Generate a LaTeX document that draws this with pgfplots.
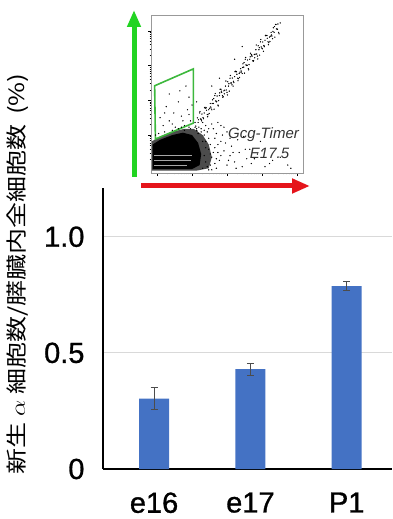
\documentclass[border=0pt]{standalone}
\usepackage{fontspec}
\setmainfont{Liberation Sans}
\newfontfamily\jp{Noto Sans CJK JP}
\newfontfamily\tickfont[FakeBold=1]{Liberation Sans}
\usepackage{pgfplots}
\pgfplotsset{compat=1.18}
\usetikzlibrary{arrows.meta}
\definecolor{barblue}{HTML}{4472C4}
\definecolor{gatecol}{HTML}{3DB83D}
\definecolor{arrgreen}{HTML}{22D422}
\definecolor{arrred}{HTML}{E5141B}
\begin{document}
\begin{tikzpicture}[x=1pt,y=1pt]
\useasboundingbox (0,0) rectangle (392,519);
% ---------- main bar chart ----------
\begin{axis}[at={(103pt,50pt)}, anchor=south west, scale only axis,
  width=289pt, height=281pt,
  xmin=-0.53, xmax=2.47, ymin=0, ymax=1.21,
  axis x line*=bottom, axis y line*=left,
  axis line style={black, line width=1.2pt, -},
  xtick={0,1,2},
  xticklabel={\tickfont\fontsize{29}{32}\selectfont\ifcase\ticknum\relax e16\or e17\or P1\fi},
  ytick={0,0.5,1},
  yticklabel={\tickfont\fontsize{29}{32}\selectfont\ifcase\ticknum\relax 0\or 0.5\or 1.0\fi},
  major tick length=0pt,
  ymajorgrids, grid style={draw=black!15, line width=0.8pt},
  yticklabel style={xshift=-15pt},
  xticklabel style={yshift=-20pt},
  clip=false]
\addplot[ybar, bar width=30pt, fill=barblue, draw=none,
  error bars/.cd, y dir=both, y explicit,
  error bar style={draw=black!70, line width=0.7pt},
  error mark options={rotate=90, mark size=3.5pt, draw=black!70, line width=0.7pt}]
  coordinates {(0,0.303) +- (0,0.048) (1,0.430) +- (0,0.026) (2,0.787) +- (0,0.019)};
\end{axis}
\node[rotate=90, font=\jp\fontsize{21}{23}\selectfont] at (18,245) {\scalebox{1.24}[1]{新生 $\alpha$ 細胞数/膵臓内全細胞数\hspace{0.35em}(\%)}};
% ---------- inset flow plot ----------
\begin{axis}[at={(151pt,346pt)}, anchor=south west, scale only axis,
  width=152pt, height=158pt,
  xmin=0, xmax=100, ymin=0, ymax=100,
  axis line style={black!40, line width=0.5pt},
  xtick={4,27,50,73,96}, ytick={24,46,68,90},
  minor xtick={10.9,15,17.8,20.1,21.9,23.4,24.8,25.9,33.9,38,40.8,43.1,44.9,46.4,47.8,48.9,56.9,61,63.8,66.1,67.9,69.4,70.8,71.9,79.9,84,86.8,89.1,90.9,92.4,93.8,94.9},
  minor ytick={8.6,12.5,15.2,17.4,19.1,20.6,21.9,23,30.6,34.5,37.2,39.4,41.1,42.6,43.9,45,52.6,56.5,59.2,61.4,63.1,64.6,65.9,67,74.6,78.5,81.2,83.4,85.1,86.6,87.9,89},
  xticklabels={}, yticklabels={},
  tick align=outside, tick pos=left,
  major tick length=3pt, minor tick length=1.5pt,
  tick style={black, line width=0.5pt},
  clip=true]
\addplot[fill=black!70, draw=none] coordinates {(0.5,1.5)(0.5,20)(6,23)(14,26)(22,28)(28,28)(34,24)(38,18)(40,10)(38,3)(30,1.5)} -- cycle;
\addplot[fill=black, draw=none] coordinates {(1,2.5)(1,18)(6,21)(14,24)(21,25.5)(27,24)(31,19)(33,12)(32,5)(27,2.5)} -- cycle;
\addplot[black!35, line width=0.4pt] coordinates {(2,5)(24,5)};
\addplot[black!35, line width=0.4pt] coordinates {(2,8)(26,8)};
\addplot[black!35, line width=0.4pt] coordinates {(2,11)(27,11)};
\addplot[only marks, mark=*, mark size=0.4pt, black] coordinates {
(29,32)(30,28)(31,32)(32,38)(33,34)(34,32)(35,38)(36,41)(37,37)(38,40)(39,44)(40,40)(41,44)(42,49)(43,45)(44,43)(45,49)(46,53)(47,49)(48,52)(49,55)(50,51)(51,55)(52,60)(53,57)(54,55)(55,61)(56,64)(57,60)(58,63)(59,66)(60,63)(61,67)(62,72)(63,68)(64,66)(65,72)(66,75)(67,71)(68,75)(69,78)(70,74)(71,78)(72,83)(73,79)(74,77)(75,84)(76,87)(77,83)(78,86)(79,89)(80,85)(81,89)(82,94)(83,91)(84,89)(85,95)
(29.5,29.7)(30.5,34.9)(31.5,29)(32.5,34.2)(33.5,37.3)(34.5,34.4)(35.5,41.6)(36.5,39.7)(37.5,36.9)(38.5,41)(39.5,41.1)(40.5,46.3)(41.5,40.4)(42.5,45.6)(43.5,48.7)(44.5,45.8)(45.5,53)(46.5,51.1)(47.5,48.3)(48.5,52.4)(49.5,52.5)(50.5,57.7)(51.5,51.8)(52.5,57)(53.5,60.1)(54.5,57.2)(55.5,64.4)(56.5,62.5)(57.5,59.7)(58.5,63.8)(59.5,63.9)(60.5,69.1)(61.5,63.2)(62.5,68.4)(63.5,71.5)(64.5,68.6)(65.5,75.8)(66.5,73.9)(67.5,71.1)(68.5,75.2)(69.5,75.3)(70.5,80.5)(71.5,74.6)(72.5,79.8)(73.5,82.9)(74.5,80)(75.5,87.2)(76.5,85.3)(77.5,82.5)(78.5,86.6)(79.5,86.7)(80.5,91.9)(81.5,86)(82.5,91.2)(83.5,94.3)
(30.25,26.6)(32.25,38.9)(34.25,35.1)(36.25,41.4)(38.25,37.7)(40.25,44)(42.25,50.3)(44.25,42.5)(46.25,51.8)(48.25,50.1)(50.25,49.4)(52.25,61.7)(54.25,58)(56.25,64.2)(58.25,60.5)(60.25,66.8)(62.25,73.1)(64.25,65.3)(66.25,74.6)(68.25,72.9)(70.25,72.2)(72.25,84.5)(74.25,80.7)(76.25,87)(78.25,83.3)(80.25,89.6)(82.25,94)(84.25,88.1)
(31.25,33.7)(33.25,33)(35.25,41.3)(37.25,35.6)(39.25,41.8)(41.25,47.1)(43.25,45.4)(45.25,50.7)(47.25,48)(49.25,58.2)(51.25,56.5)(53.25,55.8)(55.25,64.1)(57.25,58.4)(59.25,64.6)(61.25,69.9)(63.25,68.2)(65.25,73.5)(67.25,70.8)(69.25,81)(71.25,79.3)(73.25,78.6)(75.25,86.9)(77.25,81.2)(79.25,87.4)(81.25,92.7)(83.25,91)
(36,20)(38,15)(40,10)(42,22)(37,26)(45,8)(48,14)(50,5)(44,18)(52,11)(55,7)(58,13)(60,4)(63,9)(47,24)(41,28)(35,24)(39,5)(43,3)(53,17)(57,21)(66,6)(70,12)(75,4)(33,28)(30,27)(26,28)(22,27)(18,28)(14,27)(9,26)(5,25)(3,24)(46,30)(50,26)(34,3)(36,7)(38,2)(39,18)(41,13)
(34,20)(36,16)(38,22)(39,12)(42,16)(43,9)(44,13)(35,11)(37,4)(40,2)(42,6)(46,11)(49,19)(33,26)(29,29)(25,29)(20,29)(31,25)(35,27)(38,28)(43,25)(46,20)(51,8)(54,13)(56,3)(62,15)(68,9)(73,14)(78,6)(85,10)(92,3)(61,23)(52,22)(48,29)(44,32)(40,31)(36,30)
(8,30)(12,33)(15,38)(20,36)(24,40)(10,42)(18,45)(25,48)(22,30)(14,31)(6,35)(26,33)(19,52)(23,55)(12,50)(27,43)(16,29)(21,33)(9,38)(25,37)
(65,15)(80,8)(90,5)(72,20)(45,60)(55,72)(60,80)(30,45)(40,55)};
\addplot[draw=gatecol, line width=1.6pt] coordinates {(2.4,55.2)(27.9,65.9)(27.9,31.6)(2.9,21.5)} -- cycle;
\node[font=\itshape\fontsize{15}{17}\selectfont, text=black!80] at (axis cs:74,24) {Gcg-Timer};
\node[font=\itshape\fontsize{15}{17}\selectfont, text=black!80] at (axis cs:78,12.7) {E17.5};
\end{axis}
\draw[line width=5pt, arrgreen, -{Triangle[length=17pt,width=13pt]}] (134,342) -- (134,509);
\draw[line width=5pt, arrred, -{Triangle[length=18pt,width=14pt]}] (141,333) -- (310,333);
\end{tikzpicture}
\end{document}
